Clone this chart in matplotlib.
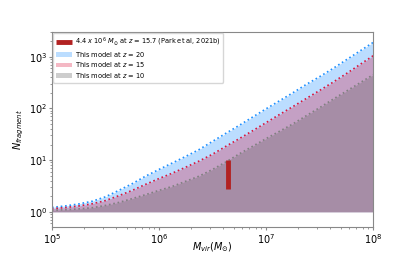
import numpy as np
import matplotlib
matplotlib.use("Agg")
import matplotlib.pyplot as plt

# halo mass grid (log10 M_vir) and fragment numbers
log_m = [5.0, 5.125, 5.25, 5.375, 5.5, 5.625, 5.75, 5.875, 6.0, 6.125, 6.25, 6.375, 6.5,
         6.625, 6.75, 6.875, 7.0, 7.125, 7.25, 7.375, 7.5, 7.625, 7.75, 7.875, 8.0]
n_z20 = [1.22, 1.3, 1.42, 1.6, 1.95, 2.6, 3.5, 4.9, 6.6, 8.8, 11.8, 16, 23,
         33, 47, 68, 98, 140, 200, 290, 410, 590, 870, 1280, 1880]
n_z15 = [1.15, 1.21, 1.3, 1.43, 1.65, 2.05, 2.6, 3.4, 4.4, 5.6, 7.3, 9.6, 13,
         18.5, 26, 37, 53, 76, 108, 155, 222, 320, 470, 700, 1040]
n_z10 = [1.07, 1.1, 1.14, 1.2, 1.33, 1.52, 1.8, 2.15, 2.6, 3.1, 3.9, 4.9, 6.6,
         9.2, 13.2, 18.5, 26, 36, 50, 72, 103, 150, 215, 310, 447]

park_mass = 4.4e6
park_range = [2.8, 10.0]

m = 10 ** np.array(log_m)

fig = plt.figure(figsize=(4.15, 2.6), dpi=100)
ax = fig.add_axes([0.125, 0.127, 0.774, 0.75])

ax.vlines(park_mass, park_range[0], park_range[1], color='firebrick', lw=3.5,
          label=r'4.4 $x$ 10$^6$ $M_{\odot}$ at $z$ = 15.7 (Park et al, 2021b)', zorder=5)

ax.fill_between(m, 1, n_z20, color='dodgerblue', alpha=0.3, lw=0, label=r'This model at $z$ = 20')
ax.plot(m, n_z20, ':', color='dodgerblue', lw=1.2)
ax.fill_between(m, 1, n_z15, color='crimson', alpha=0.3, lw=0, label=r'This model at $z$ = 15')
ax.plot(m, n_z15, ':', color='crimson', lw=1.2)
ax.fill_between(m, 1, n_z10, color='dimgray', alpha=0.33, lw=0, label=r'This model at $z$ = 10')
ax.plot(m, n_z10, ':', color='gray', lw=1.2)

ax.set_xscale('log')
ax.set_yscale('log')
ax.set_xlim(1e5, 1e8)
ax.set_ylim(0.51, 3000)
ax.set_xlabel(r'$M_{vir} (M_{\odot})$', fontsize=7, labelpad=-4)
ax.set_ylabel(r'$N_{fragment}$', fontsize=7, labelpad=2)
ax.tick_params(which='both', direction='out', labelsize=7, pad=1, color='#888888')
ax.tick_params(which='major', length=2.5)
ax.tick_params(which='minor', length=1.5)
for s in ax.spines.values():
    s.set_color('#888888')
    s.set_linewidth(0.8)

ax.legend(loc='upper left', fontsize=4.8, handlelength=2.5, handletextpad=0.4,
          labelspacing=0.25, borderaxespad=0.15)

fig.savefig('out.png', dpi=100)
